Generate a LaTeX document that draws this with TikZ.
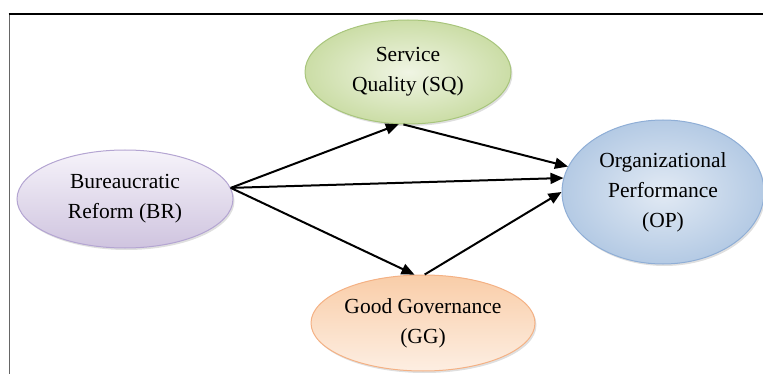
\documentclass[tikz,border=0pt]{standalone}
\usepackage{fontspec}
\setmainfont{Liberation Serif}
\usetikzlibrary{shapes.geometric,arrows.meta,shadows}
\definecolor{brfillA}{HTML}{F6F3FA}
\definecolor{brfillB}{HTML}{CFC4DF}
\definecolor{brline}{HTML}{B4A5D2}
\definecolor{sqfillA}{HTML}{F0F5E4}
\definecolor{sqfillB}{HTML}{CBDDA6}
\definecolor{sqline}{HTML}{A8C57C}
\definecolor{opfillA}{HTML}{E2EAF4}
\definecolor{opfillB}{HTML}{B4CAE4}
\definecolor{opline}{HTML}{8FAED6}
\definecolor{ggfillA}{HTML}{F9CDA8}
\definecolor{ggfillB}{HTML}{FDEEE2}
\definecolor{ggline}{HTML}{F4B184}
\tikzset{
  oval/.style={ellipse, inner sep=0pt, align=center, line width=1pt,
    font=\fontsize{21.5}{30}\selectfont,
    drop shadow={shadow xshift=1.5pt, shadow yshift=-2pt, opacity=0.25}},
  link/.style={line width=2pt, -{Triangle[length=13pt,width=11pt]}},
  topframe/.style={line width=2.5pt, black},
  sideframe/.style={line width=1pt, black!60}
}
\begin{document}
\begin{tikzpicture}[x=1pt,y=1pt]
\useasboundingbox (0,0) rectangle (763,-374);
\draw[sideframe] (9,-374) -- (9,-14);
\draw[topframe] (8.5,-14) -- (763,-14);
\node[oval, draw=brline, top color=brfillA, bottom color=brfillB,
  minimum width=216pt, minimum height=98pt] (BR) at (125,-199) {Bureaucratic\\Reform (BR)};
\node[oval, draw=sqline, inner color=sqfillA, outer color=sqfillB,
  minimum width=206pt, minimum height=104pt] (SQ) at (408,-72) {Service\\Quality (SQ)};
\node[oval, draw=opline, inner color=opfillA, outer color=opfillB,
  minimum width=202pt, minimum height=144pt] (OP) at (663,-192) {Organizational\\Performance\\(OP)};
\node[oval, draw=ggline, top color=ggfillA, bottom color=ggfillB,
  minimum width=224pt, minimum height=96pt] (GG) at (423,-323) {Good Governance\\(GG)};
\draw[link] (BR.6) -- (SQ.-100);
\draw[link] (SQ.-95) -- (OP.165);
\draw[link] (BR.6) -- (OP.172);
\draw[link] (BR.6) -- (GG.100);
\draw[link] (GG.88) -- (OP.180);
\end{tikzpicture}
\end{document}
